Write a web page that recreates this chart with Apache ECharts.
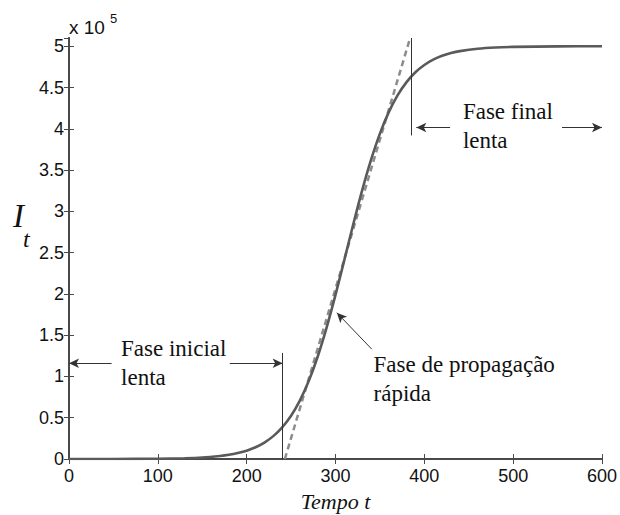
<!DOCTYPE html>
<html>
<head>
<meta charset="utf-8">
<script src="https://cdn.jsdelivr.net/npm/echarts@6/dist/echarts.min.js"></script>
<style>
html,body{margin:0;padding:0;background:#fff;}
#chart{width:620px;height:515px;}
</style>
</head>
<body>
<div id="chart"></div>
<script>
// ---- data (I_t in units of 1e5) ----
const tValues = [0,50,100,130,150,170,180,190,200,210,220,230,240,250,260,270,280,290,300,310,320,330,340,350,360,370,380,390,400,410,420,430,440,460,480,500,550,600];
const iValues = [0.0001,0.0006,0.0033,0.0092,0.018,0.037,0.051,0.072,0.10,0.142,0.199,0.277,0.383,0.524,0.71,0.948,1.242,1.592,1.988,2.413,2.844,3.255,3.624,3.942,4.202,4.408,4.566,4.685,4.773,4.837,4.884,4.917,4.941,4.97,4.985,4.992,4.999,5.0];
const dashT = [243, 384];
const dashI = [0, 5.1];
const xTicks = [0,100,200,300,400,500,600];
const yTicks = [0,0.5,1,1.5,2,2.5,3,3.5,4,4.5,5];
// annotation anchors (data coordinates)
const vLines = [[240.5, 0, 1.285],[385, 3.92, 5.1]];           // [t, from, to]
const arrowLines = [[48,1.16,0,1.16],[181,1.16,240.5,1.16],[429,4.016,391,4.016],[555,4.016,600,4.016],[340.9,1.33,301.5,1.772]]; // from -> to (head)
const labelTexts = ['Fase inicial\nlenta','Fase final\nlenta','Fase de propagação\nrápida'];
const labelPos = [[58.6,1.158],[443.4,4.03],[342.8,0.965]];
const xName = 'Tempo t';

const curve = tValues.map((t,i)=>[t,iValues[i]]);
const dashed = dashT.map((t,i)=>[t,dashI[i]]);

const chart = echarts.init(document.getElementById('chart'), null, {renderer:'svg'});
const axisCol = '#4a4a4a';
const tickFont = {fontFamily:'Liberation Sans', fontSize:18, color:'#111'};

const markLineData = [];
vLines.forEach(v=>markLineData.push([{coord:[v[0],v[1]],symbol:'none'},{coord:[v[0],v[2]],symbol:'none'}]));
arrowLines.forEach(a=>markLineData.push([{coord:[a[0],a[1]],symbol:'none'},{coord:[a[2],a[3]],symbol:'arrow',symbolSize:[7,10]}]));

const option = {
  animation:false,
  backgroundColor:'#fff',
  grid:{left:69,right:18,top:38,bottom:56,show:false},
  xAxis:[{
    type:'value',min:0,max:600,interval:100,position:'bottom',
    axisLine:{show:true,lineStyle:{color:axisCol,width:2}},
    axisTick:{show:true,inside:true,length:5,lineStyle:{color:axisCol,width:1}},
    axisLabel:Object.assign({margin:8,formatter:v=>xTicks.includes(v)?String(v):''},tickFont),
    splitLine:{show:false}
  },{
    type:'value',min:0,max:600,interval:100,position:'top',
    axisLine:{show:true,lineStyle:{color:axisCol,width:2}},
    axisTick:{show:true,inside:true,length:5,lineStyle:{color:axisCol,width:1}},
    axisLabel:{show:false},splitLine:{show:false}
  }],
  yAxis:[{
    type:'value',min:0,max:5.1,interval:0.5,position:'left',
    axisLine:{show:true,lineStyle:{color:axisCol,width:2}},
    axisTick:{show:true,inside:true,length:5,lineStyle:{color:axisCol,width:1}},
    axisLabel:Object.assign({margin:5,showMaxLabel:false,formatter:v=>{
      const m = yTicks.find(y=>Math.abs(y-v)<1e-6); return m===undefined?'':String(m);}},tickFont),
    splitLine:{show:false}
  },{
    type:'value',min:0,max:5.1,interval:0.5,position:'right',
    axisLine:{show:true,lineStyle:{color:axisCol,width:2}},
    axisTick:{show:true,inside:true,length:5,lineStyle:{color:axisCol,width:1}},
    axisLabel:{show:false},splitLine:{show:false}
  }],
  series:[
    {type:'line',data:dashed,showSymbol:false,symbol:'none',
     lineStyle:{color:'#8c8c8c',width:2.5,type:[6,4]},z:2},
    {type:'line',data:curve,showSymbol:false,symbol:'none',smooth:0.25,
     lineStyle:{color:'#5a5a5a',width:2.6},z:3,
     markLine:{silent:true,animation:false,label:{show:false},
       lineStyle:{color:'#333',width:1,type:'solid'},
       emphasis:{disabled:true},
       data:markLineData}}
  ]
};
chart.setOption(option);

// text annotations placed through the chart's own coordinate conversion
const serifFont = '23px "Liberation Serif", serif';
const graphics = labelPos.map((p,i)=>{
  const px = chart.convertToPixel({xAxisIndex:0,yAxisIndex:0}, p);
  return {type:'text',x:px[0],y:px[1],silent:true,
    style:{text:labelTexts[i],font:serifFont,lineHeight:29,fill:'#111',align:'left',verticalAlign:'middle'}};
});
const g = chart.getModel().getComponent('grid').coordinateSystem.getRect();
graphics.push({type:'text',x:g.x+g.width/2,y:g.y+g.height+42,silent:true,
  style:{text:xName,font:'italic 22px "Liberation Serif", serif',fill:'#111',align:'center',verticalAlign:'middle'}});
graphics.push(
  {type:'text',left:69,top:18,style:{text:'x 10',font:'19px "Liberation Sans", Arial, sans-serif',fill:'#111'}},
  {type:'text',left:110,top:12,style:{text:'5',font:'13px "Liberation Sans", Arial, sans-serif',fill:'#111'}},
  {type:'text',x:13,y:216,style:{text:'I',font:'italic 33px "Liberation Serif", serif',fill:'#111',verticalAlign:'middle'}},
  {type:'text',x:23,y:239,style:{text:'t',font:'italic 24px "Liberation Serif", serif',fill:'#111',verticalAlign:'middle'}}
);
chart.setOption({graphic:graphics});
</script>
</body>
</html>
